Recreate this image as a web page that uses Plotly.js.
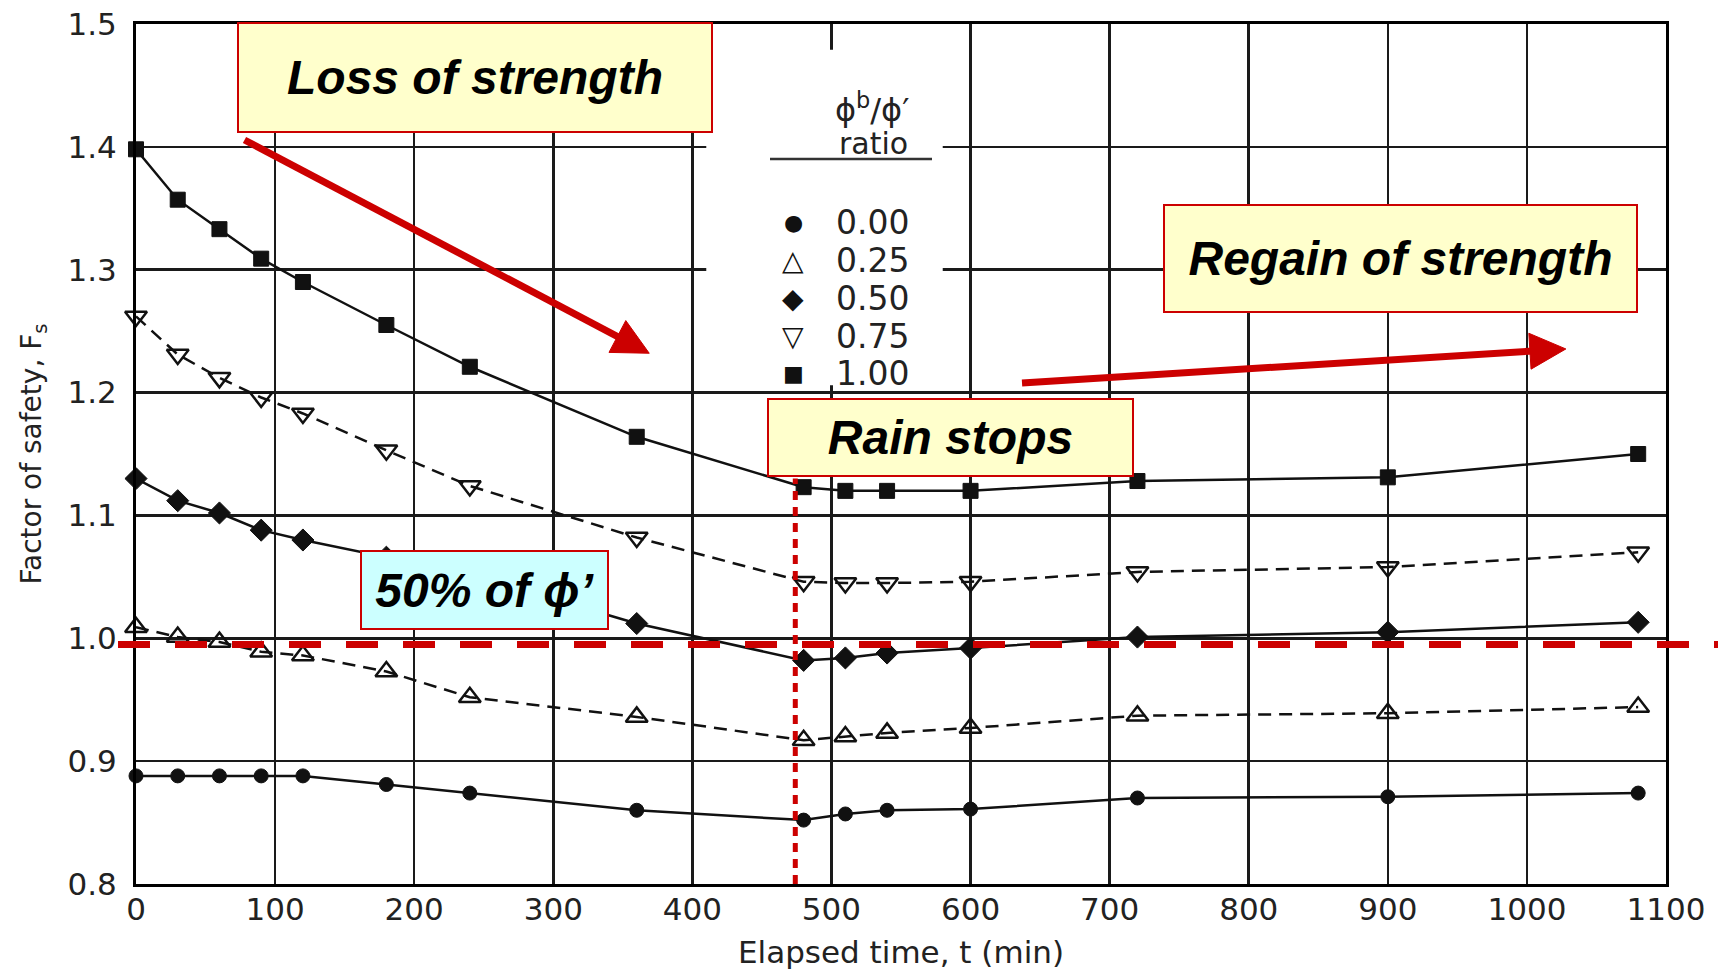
<!DOCTYPE html>
<html>
<head>
<meta charset="utf-8">
<script src="https://cdn.plot.ly/plotly-3.0.1.min.js"></script>
<style>html,body{margin:0;padding:0;background:#fff;}#chart{width:1732px;height:970px;}</style>
</head>
<body>
<div id="chart"></div>
<script>
// ---- data ----
const times = [0, 30, 60, 90, 120, 180, 240, 360, 480, 510, 540, 600, 720, 900, 1080];
const fs000 = [0.888, 0.888, 0.888, 0.888, 0.888, 0.881, 0.874, 0.860, 0.852, 0.857, 0.860, 0.861, 0.870, 0.871, 0.874];
const fs025 = [1.009, 1.001, 0.997, 0.989, 0.986, 0.973, 0.952, 0.936, 0.917, 0.920, 0.923, 0.927, 0.937, 0.939, 0.944];
const fs050 = [1.130, 1.112, 1.102, 1.088, 1.080, 1.066, 1.052, 1.012, 0.982, 0.984, 0.988, 0.992, 1.001, 1.005, 1.013];
const fs075 = [1.262, 1.231, 1.212, 1.196, 1.183, 1.153, 1.124, 1.082, 1.046, 1.045, 1.045, 1.046, 1.054, 1.058, 1.070];
const fs100 = [1.398, 1.357, 1.333, 1.309, 1.290, 1.255, 1.221, 1.164, 1.123, 1.120, 1.120, 1.120, 1.128, 1.131, 1.150];
const ratioLabels = ['0.00', '0.25', '0.50', '0.75', '1.00'];
const ratioSymbols = ['●', '△', '◆', '▽', '■'];
const xTicks = [0, 100, 200, 300, 400, 500, 600, 700, 800, 900, 1000, 1100];
const yTicks = [0.8, 0.9, 1.0, 1.1, 1.2, 1.3, 1.4, 1.5];
const halfFrictionFs = 0.995;   // red dashed line "50% of phi'"
const rainStopTime = 474;       // red dotted line "Rain stops"
// arrows: [tailTime, tailFs, tipTime, tipFs]
const lossArrow = [78, 1.4056, 369, 1.232];
const regainArrow = [637, 1.2078, 1028, 1.2355];

// ---- layout geometry ----
const W = 1732, H = 970;
const M = {l: 136, r: 66, t: 24, b: 86};
const PW = W - M.l - M.r, PH = H - M.t - M.b;
const xRange = [0, 1100], yRange = [0.8, 1.5];
const px = x => (x - M.l) / PW;                 // pixel -> paper
const py = y => (H - M.b - y) / PH;
const yp = v => (v - yRange[0]) / (yRange[1] - yRange[0]);
const dx2pix = x => M.l + (x - xRange[0]) / (xRange[1] - xRange[0]) * PW;   // data -> pixel
const dy2pix = y => M.t + (yRange[1] - y) / (yRange[1] - yRange[0]) * PH;

const FONT = 'Liberation Sans, Arial, sans-serif';
const AXFONT = 'DejaVu Sans, Liberation Sans, sans-serif';
const RED = '#cc0000';
const INK = '#111';

function series(y, symbol, size, dash, lw) {
  return {
    x: times, y: y, type: 'scatter', mode: 'lines+markers',
    line: {color: INK, width: 2.5, dash: dash},
    marker: {symbol: symbol, size: size, color: INK, line: {color: INK, width: lw}},
    showlegend: false, cliponaxis: false
  };
}

const data = [
  series(fs000, 'circle', 14, 'solid', 1),
  series(fs025, 'triangle-up-open', 19, '13px,8px', 2.5),
  series(fs050, 'diamond', 17, 'solid', 1),
  series(fs075, 'triangle-down-open', 19, '13px,8px', 2.5),
  series(fs100, 'square', 15, 'solid', 1)
];

function box(text, cx, cy, w, h, bg) {
  return {
    xref: 'paper', yref: 'paper', x: px(cx), y: py(cy), xanchor: 'center', yanchor: 'middle',
    text: text, showarrow: false, width: w - 4, height: h - 4, borderpad: 0,
    bgcolor: bg, bordercolor: RED, borderwidth: 2,
    font: {family: FONT, size: 48, color: '#000', weight: 'bold', style: 'italic'}
  };
}

const annotations = [
  box('Loss of strength', 475, 77.5, 476, 111, '#ffffcc'),
  box('Regain of strength', 1400.5, 258.5, 475, 109, '#ffffcc'),
  box('Rain stops', 950.5, 437.5, 367, 79, '#ffffcc'),
  box('50% of ϕ’', 484.5, 590, 249, 80, '#ccffff'),
  // legend header
  {xref: 'paper', yref: 'paper', x: px(872), y: py(108), xanchor: 'center', yanchor: 'middle', showarrow: false,
   text: 'ϕ<sup>b</sup>/ϕ′', font: {family: AXFONT, size: 32, color: '#222'}},
  {xref: 'paper', yref: 'paper', x: px(873), y: py(143), xanchor: 'center', yanchor: 'middle', showarrow: false,
   text: 'ratio', font: {family: AXFONT, size: 30, color: '#222'}}
];
const legendY = [223, 260, 298, 336, 373];
const legendSymSize = [22, 28, 28, 28, 22];
ratioLabels.forEach((lab, i) => {
  annotations.push({xref: 'paper', yref: 'paper', x: px(793), y: py(legendY[i]), xanchor: 'center', yanchor: 'middle',
    showarrow: false, text: ratioSymbols[i], font: {family: 'DejaVu Sans', size: legendSymSize[i], color: '#111'}});
  annotations.push({xref: 'paper', yref: 'paper', x: px(834), y: py(legendY[i]), xanchor: 'left', yanchor: 'middle',
    showarrow: false, text: lab, font: {family: AXFONT, size: 33, color: '#222'}});
});

// arrow drawn as shaft line + filled head (in pixel space, converted to paper)
function arrowShapes(a) {
  const sx = dx2pix(a[0]), sy = dy2pix(a[1]), tx = dx2pix(a[2]), ty = dy2pix(a[3]);
  const len = Math.hypot(tx - sx, ty - sy), ux = (tx - sx) / len, uy = (ty - sy) / len;
  const L = 36, hw = 18;
  const bx = tx - ux * L, by = ty - uy * L, nx = -uy, ny = ux;
  const p = (X, Y) => px(X).toFixed(5) + ',' + py(Y).toFixed(5);
  return [
    {type: 'line', xref: 'paper', yref: 'paper', x0: px(sx), y0: py(sy), x1: px(bx + ux * 4), y1: py(by + uy * 4),
     line: {color: RED, width: 7}, layer: 'above'},
    {type: 'path', xref: 'paper', yref: 'paper', layer: 'above', fillcolor: RED, line: {color: RED, width: 1},
     path: 'M' + p(tx, ty) + 'L' + p(bx + nx * hw, by + ny * hw) + 'L' + p(bx - nx * hw, by - ny * hw) + 'Z'}
  ];
}

const shapes = [
  // white patch behind legend (grid interrupted there)
  {type: 'rect', xref: 'x', yref: 'y', x0: 410, x1: 580, y0: 1.206, y1: 1.479, layer: 'between',
   fillcolor: '#fff', line: {width: 0}},
  // legend underline
  {type: 'line', xref: 'paper', yref: 'paper', x0: px(770), x1: px(932), y0: py(159), y1: py(159),
   line: {color: '#333', width: 2.5}, layer: 'above'},
  // red dashed 50% line
  {type: 'line', xref: 'paper', yref: 'paper', x0: px(118), x1: px(1718), y0: yp(halfFrictionFs), y1: yp(halfFrictionFs),
   line: {color: RED, width: 7, dash: '32px,25px'}, layer: 'above'},
  // red dotted rain-stop line
  {type: 'line', xref: 'x', yref: 'y', x0: rainStopTime, x1: rainStopTime, y0: 0.8, y1: 1.13,
   line: {color: RED, width: 5, dash: '9px,7px'}, layer: 'above'}
].concat(arrowShapes(lossArrow), arrowShapes(regainArrow));

const layout = {
  width: W, height: H,
  margin: M,
  paper_bgcolor: '#fff', plot_bgcolor: '#fff',
  showlegend: false,
  font: {family: AXFONT, color: '#222'},
  xaxis: {
    range: xRange, tickvals: xTicks, ticktext: xTicks.map(String),
    showgrid: true, gridcolor: '#1a1a1a', gridwidth: 2.5,
    showline: true, linecolor: '#000', linewidth: 3, mirror: true,
    zeroline: false, ticks: '', ticklabelstandoff: -4,
    tickfont: {family: AXFONT, size: 31, color: '#222'},
    title: {text: 'Elapsed time, t (min)', font: {family: AXFONT, size: 31, color: '#222'}, standoff: 22}
  },
  yaxis: {
    range: yRange, tickvals: yTicks, ticktext: yTicks.map(v => v.toFixed(1)),
    showgrid: true, gridcolor: '#1a1a1a', gridwidth: 2.5,
    showline: true, linecolor: '#000', linewidth: 3, mirror: true,
    zeroline: false, ticks: '', ticklabelstandoff: 10,
    tickfont: {family: AXFONT, size: 31, color: '#222'},
    title: {text: 'Factor of safety, F<sub>s</sub>', font: {family: AXFONT, size: 28, color: '#222'}, standoff: 18}
  },
  annotations: annotations,
  shapes: shapes
};

Plotly.newPlot('chart', data, layout, {staticPlot: true, displayModeBar: false});
</script>
</body>
</html>
